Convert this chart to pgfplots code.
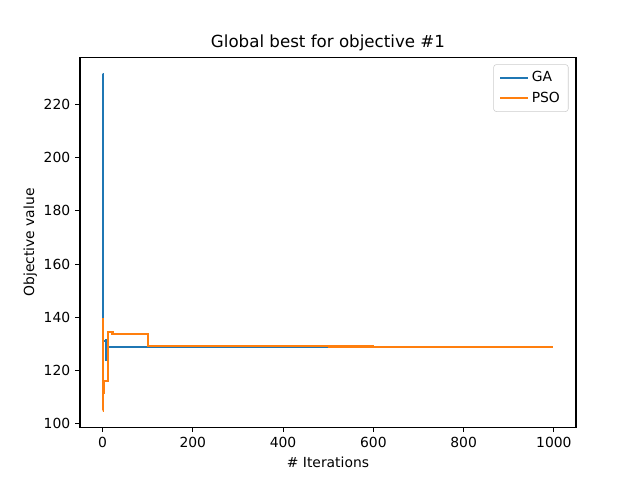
\documentclass[border=0pt]{standalone}
\usepackage{fontspec}
\setmainfont{DejaVu Sans}
\usepackage{pgfplots}
\pgfplotsset{compat=1.18}
\usetikzlibrary{calc}
\definecolor{mplblue}{HTML}{1F77B4}
\definecolor{mplorange}{HTML}{FF7F0E}
\begin{document}
\begin{tikzpicture}
\begin{axis}[
    scale only axis,
    width=357.1pt, height=266.1pt,
    xmin=-49.95, xmax=1048.95,
    ymin=98.7, ymax=237.6,
    xtick={0,200,400,600,800,1000},
    ytick={100,120,140,160,180,200,220},
    tick align=outside,
    major tick length=3.5pt,
    tick style={black, line width=0.8pt},
    axis line style={line width=0.8pt},
    xtick pos=bottom, ytick pos=left,
    tick label style={font=\fontsize{10}{12}\selectfont},
    /pgf/number format/assume math mode=true,
    /pgf/number format/1000 sep={},
    title={Global best for objective \#1},
    title style={font=\fontsize{12}{14}\selectfont, yshift=-5pt},
    xlabel={\# Iterations},
    ylabel={Objective value},
    ylabel style={yshift=-2pt},
    label style={font=\fontsize{10}{12}\selectfont},
    legend style={at={(0.985,0.982)}, anchor=north east, draw=black!20,
        rounded corners=2pt, font=\fontsize{10}{12}\selectfont,
        inner xsep=4pt, inner ysep=3pt, row sep=2pt},
    legend cell align=left,
    legend image code/.code={\draw[#1, line width=1.5pt] (0pt,0pt) -- (20pt,0pt);},
]
\addplot[mplblue, line width=1.5pt, const plot] coordinates {
    (0,231.3) (1,135) (2,131) (6,131) (7,124) (8,131.4) (10,131.4)
    (11,129.0) (250,128.95) (499,128.9)
};
\addlegendentry{GA}
\addplot[mplorange, line width=1.5pt, const plot] coordinates {
    (0,105.0) (1,139.5) (2,111.5) (3,116) (12,116) (13,134.5) (21,134.5)
    (22,133.6) (100,133.6) (101,129.2) (501,129.15) (502,129.05)
    (600,129.0) (645,128.85) (999,128.85)
};
\addlegendentry{PSO}
\coordinate (o) at (rel axis cs:0,0);
\end{axis}
\pgfresetboundingbox
\path ($(o)+(-57.6pt,-38.0pt)$) rectangle ++(460.8pt,345.6pt);
\end{tikzpicture}
\end{document}
